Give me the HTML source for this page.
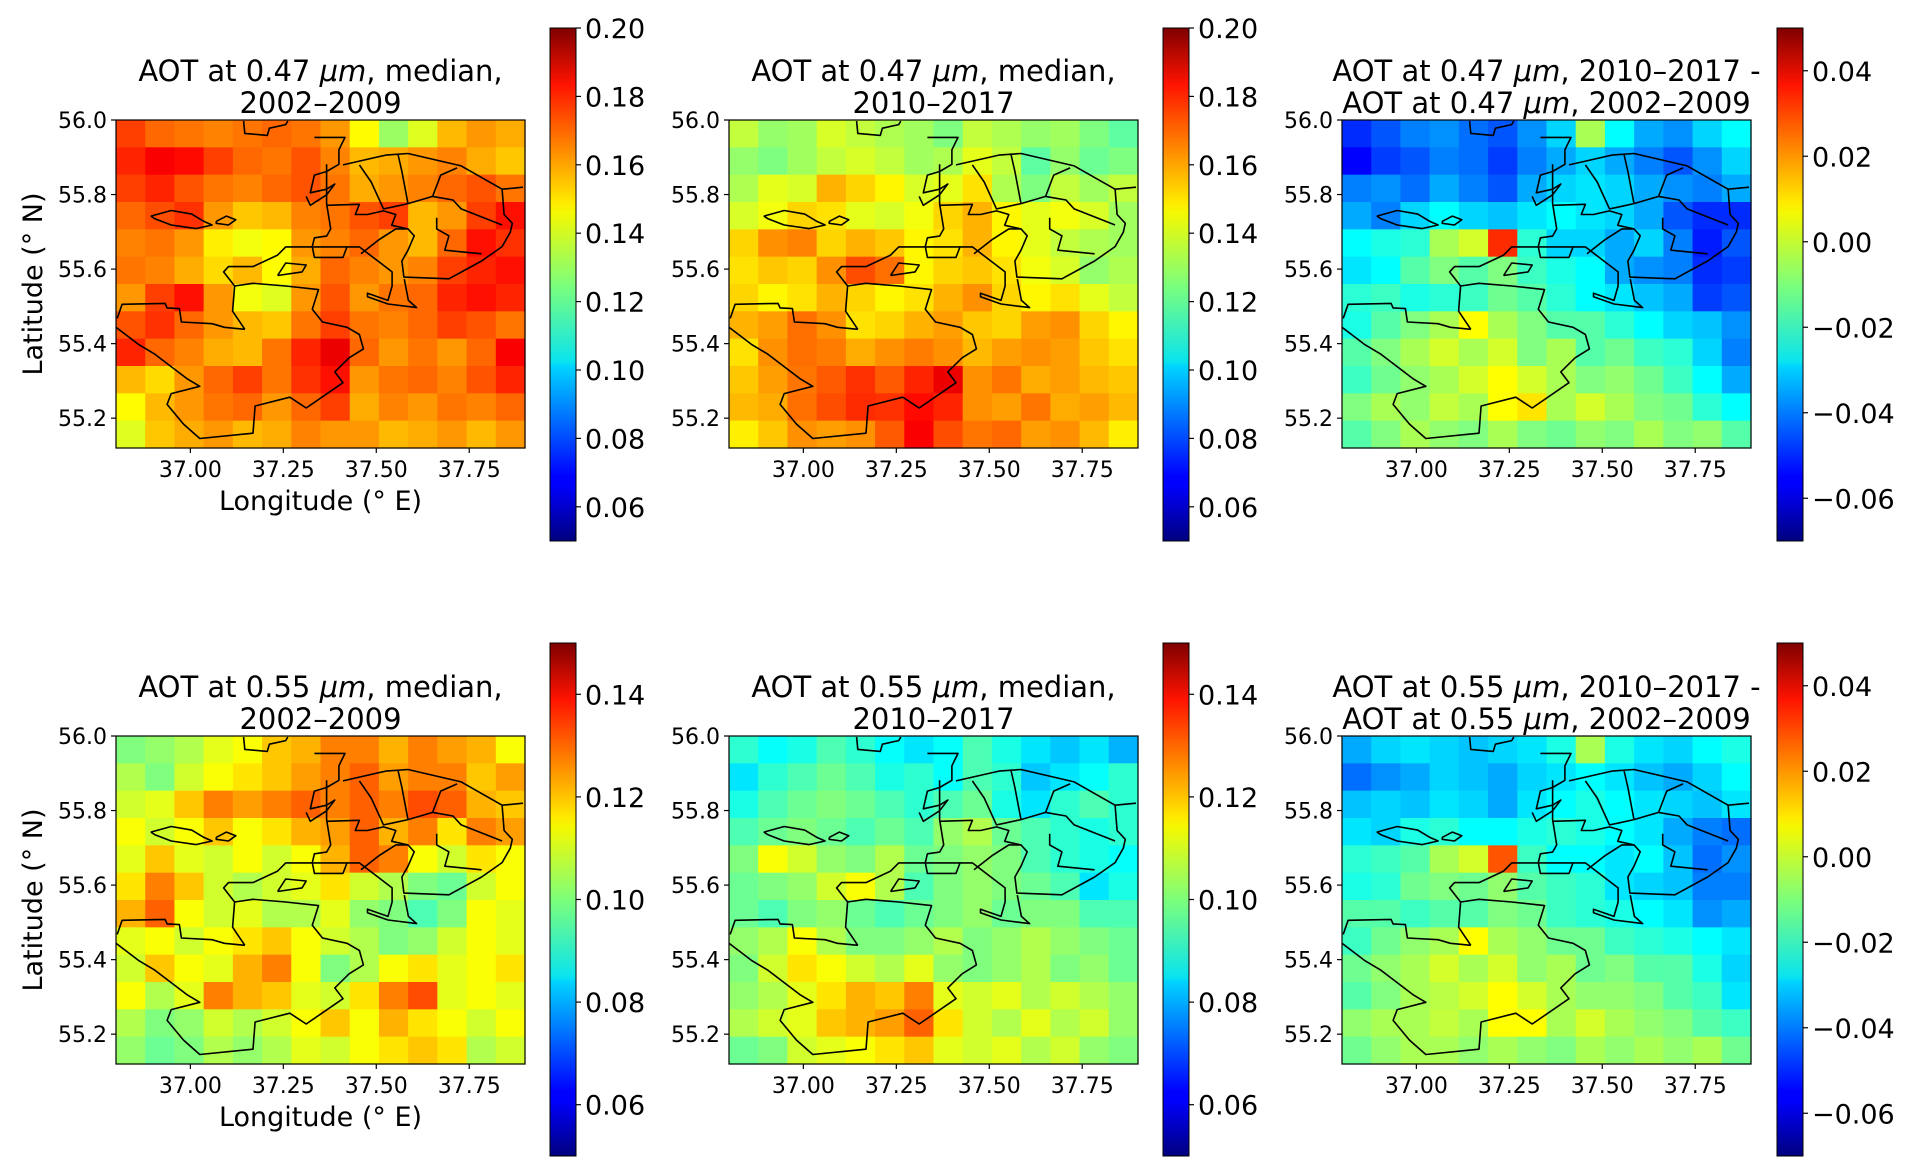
<!DOCTYPE html>
<html><head><meta charset="utf-8">
<style>
html,body{margin:0;padding:0;background:#fff;}
svg{display:block;font-family:"DejaVu Sans","Liberation Sans",sans-serif;}
</style></head>
<body>
<svg id="fig" width="1912" height="1175" viewBox="0 0 1912 1175" xmlns="http://www.w3.org/2000/svg">
<defs>
<linearGradient id="jet" x1="0" y1="1" x2="0" y2="0">
<stop offset="0" stop-color="#00007f"/><stop offset="0.11" stop-color="#0000ff"/><stop offset="0.125" stop-color="#0000ff"/>
<stop offset="0.34" stop-color="#00d4ff"/><stop offset="0.35" stop-color="#0ae4ee"/><stop offset="0.5" stop-color="#7dff7a"/>
<stop offset="0.64" stop-color="#f4f802"/><stop offset="0.66" stop-color="#ffea00"/><stop offset="0.89" stop-color="#ff1300"/>
<stop offset="1" stop-color="#7f0000"/>
</linearGradient>
</defs>
</svg>
<script>
// ---- data (values in thousandths of AOT), rows north -> south, cols west -> east ----
const lonTicks = [37.00, 37.25, 37.50, 37.75];
const latTicks = [55.2, 55.4, 55.6, 55.8, 56.0];
const cbTicksA = [0.06, 0.08, 0.10, 0.12, 0.14, 0.16, 0.18, 0.20];
const cbTicksB = [0.06, 0.08, 0.10, 0.12, 0.14];
const cbTicksD = [-0.06, -0.04, -0.02, 0.00, 0.02, 0.04];
const aot047early = [
[172,166,164,162,164,166,164,159,144,129,139,154,159,156],
[176,182,180,172,166,164,169,162,154,156,159,162,156,152],
[172,176,169,164,162,166,169,164,156,159,162,166,169,164],
[166,170,174,159,152,154,162,164,169,172,154,159,172,179],
[162,164,159,146,142,144,159,162,166,159,154,166,179,174],
[164,162,156,149,154,144,156,166,162,159,162,172,176,179],
[159,172,179,159,142,139,159,169,159,164,166,176,179,176],
[169,174,166,159,154,152,164,172,164,162,166,172,169,164],
[176,166,162,156,154,164,176,184,166,159,164,159,166,182],
[154,149,159,166,172,164,174,179,159,164,166,162,169,176],
[144,154,159,164,166,159,166,172,156,162,159,164,162,166],
[139,152,156,159,154,156,162,159,159,154,156,159,154,159]];
const aot047late = [
[135,128,130,138,135,132,130,125,135,132,128,130,125,120],
[128,125,130,135,138,135,130,132,140,135,120,128,122,125],
[132,140,138,155,150,145,138,140,148,132,125,135,130,135],
[138,142,150,148,140,138,142,150,155,145,140,142,138,130],
[150,160,162,150,155,152,145,148,155,145,140,135,132,130],
[148,152,150,160,170,165,145,150,152,148,142,138,128,132],
[150,145,148,155,150,145,148,155,160,150,145,148,140,135],
[155,158,165,160,148,150,155,158,152,150,158,160,150,145],
[148,160,165,163,156,160,163,160,154,158,160,158,152,148],
[152,158,164,168,174,168,176,184,160,164,156,158,154,152],
[154,156,165,170,175,174,180,176,160,158,164,156,158,154],
[146,152,160,158,160,168,182,170,164,166,158,160,154,146]];
const aot047diff = [
[-50,-45,-40,-38,-42,-45,-38,-30,-5,-25,-35,-38,-30,-25],
[-55,-48,-45,-40,-42,-48,-40,-35,-30,-35,-40,-45,-38,-30],
[-40,-38,-42,-35,-40,-45,-35,-30,-28,-30,-35,-38,-40,-35],
[-35,-40,-30,-25,-30,-32,-28,-25,-28,-30,-35,-45,-50,-50],
[-25,-22,-20,-5,0,30,-20,-30,-30,-35,-30,-40,-52,-45],
[-28,-25,-15,-10,-15,-10,-18,-22,-25,-35,-38,-40,-50,-48],
[-20,-18,-22,-20,-18,-12,-15,-20,-25,-28,-32,-35,-48,-45],
[-22,-15,-10,-5,5,-5,-10,-15,-15,-20,-25,-30,-32,-38],
[-15,-10,-5,0,-5,0,-10,-5,-15,-12,-18,-20,-30,-40],
[-18,-12,-8,-5,0,5,0,-5,-10,-8,-12,-18,-25,-35],
[-10,-5,-8,-2,-5,5,8,-5,0,-5,-10,-12,-20,-25],
[-15,-10,-5,-8,-10,-5,-10,-12,-8,-10,-5,-10,-8,-15]];
const aot055early = [
[100,102,105,110,112,118,120,125,125,120,125,122,120,112],
[105,100,108,112,115,118,122,125,128,122,125,125,118,122],
[108,110,118,125,122,125,128,125,128,125,130,128,120,118],
[112,108,112,118,112,115,120,122,128,120,125,115,125,122],
[110,118,110,108,112,108,112,120,128,125,112,108,115,112],
[115,125,118,108,105,108,110,115,108,105,100,98,108,112],
[120,128,112,108,110,105,105,110,102,100,95,100,112,110],
[110,112,108,112,115,118,112,108,105,100,102,108,112,110],
[108,118,112,110,120,125,112,100,105,112,115,110,112,115],
[112,105,110,125,120,118,110,108,115,125,130,110,112,110],
[105,100,102,108,105,108,112,118,112,120,115,112,108,112],
[102,98,100,105,102,105,110,108,112,115,118,115,105,108]];
const aot055late = [
[92,88,90,95,92,88,85,88,95,90,85,82,85,80],
[85,92,95,98,95,90,92,88,95,92,82,85,88,92],
[90,95,98,100,98,95,92,95,98,90,85,92,95,92],
[95,98,100,98,95,98,95,102,105,98,95,92,90,92],
[100,112,108,102,100,105,98,100,102,100,95,92,90,88],
[98,100,102,108,112,105,95,100,102,100,98,95,85,90],
[98,95,100,102,98,95,98,100,102,98,100,100,95,95],
[102,105,112,105,100,100,102,105,100,102,105,102,100,98],
[100,108,115,112,108,105,110,102,100,102,105,100,102,98],
[102,105,110,115,120,118,125,110,108,110,105,108,105,102],
[105,108,110,118,120,122,128,115,108,105,110,105,108,102],
[98,100,108,110,112,115,118,110,108,110,105,108,102,100]];
const aot055diff = [
[-35,-30,-28,-30,-32,-30,-28,-22,-5,-22,-28,-30,-25,-22],
[-42,-38,-35,-30,-32,-35,-30,-28,-25,-28,-32,-35,-30,-25],
[-32,-30,-32,-28,-30,-35,-28,-25,-22,-25,-28,-30,-32,-28],
[-28,-30,-22,-20,-25,-25,-22,-20,-22,-25,-28,-35,-40,-42],
[-20,-18,-15,-5,0,25,-18,-25,-25,-28,-25,-32,-42,-38],
[-22,-20,-12,-10,-12,-8,-15,-18,-20,-28,-30,-32,-40,-40],
[-15,-15,-18,-15,-15,-10,-12,-18,-20,-22,-25,-28,-38,-35],
[-18,-12,-8,-5,5,-5,-8,-12,-12,-18,-20,-22,-25,-28],
[-12,-8,-5,0,-5,0,-8,-5,-12,-10,-15,-15,-22,-30],
[-15,-10,-5,-3,0,5,0,-5,-8,-8,-10,-15,-18,-28],
[-8,-5,-5,-2,-5,5,5,-5,0,-5,-8,-10,-15,-18],
[-12,-8,-5,-5,-8,-5,-8,-10,-5,-8,-5,-8,-5,-12]];

// boundary outlines in normalized axes coords*1000 (u: west->east, v: north->south)
const outlines = [
[[312,3],[315,41],[370,47],[375,25],[415,14],[420,3]],
[[85,293],[135,276],[185,287],[215,309],[235,320],[195,331],[135,320],[95,301],[85,293]],
[[245,309],[270,293],[293,304],[275,320],[245,315],[245,309]],
[[485,53],[515,53],[560,53],[545,91],[545,135],[515,157],[485,168],[475,222],[515,211],[535,195],[515,228],[475,260],[465,233]],
[[515,135],[515,255],[525,332],[515,354],[485,359],[480,386],[485,419],[555,419],[565,386]],
[[555,137],[660,107],[714,102],[844,140],[944,211],[949,288],[969,315],[964,342],[944,386],[894,430],[814,484],[704,479],[699,430],[714,397],[729,353],[714,332],[684,332],[644,364],[599,408]],
[[595,137],[624,189],[654,271],[674,266],[714,255],[774,233],[824,244],[844,271],[944,320]],
[[689,102],[699,157],[714,255]],
[[774,233],[794,168],[834,146]],
[[784,298],[784,332],[814,353],[804,397],[894,408]],
[[515,260],[595,257],[585,288],[615,288],[654,277],[684,288],[674,321],[714,332]],
[[0,632],[55,684],[95,714],[175,790],[205,812],[135,834],[125,867],[165,927],[205,971],[335,955],[340,872],[425,845],[465,878],[555,801],[535,768],[570,725],[605,698],[595,654],[565,632],[505,616],[480,577],[495,517],[415,506],[335,498],[290,506],[285,583],[315,638]],
[[3,605],[15,562],[120,559],[125,573],[155,575],[160,616],[235,621],[265,632],[315,638]],
[[290,506],[263,463],[275,447],[335,447],[395,412],[415,387],[485,387],[565,387],[595,387],[675,463],[675,506],[665,550],[615,528],[615,539],[665,561],[735,572],[715,550],[705,485]],
[[395,474],[415,436],[465,442],[455,463],[395,474]],
[[944,211],[995,205]]
];

// ---- layout ----
const AX_W = 409, AX_H = 328;
const LON0 = 36.8, LON1 = 37.9, LAT0 = 55.12, LAT1 = 56.0;
const panels = [
 {id:'p047-early', x:116, y:120, cbx:550, cby:28, data:aot047early, vmin:0.05, vmax:0.20, ticks:cbTicksA, t1:['AOT at 0.47 ','μm',', median,'], t2:'2002–2009', xl:true, yl:true},
 {id:'p047-late', x:729, y:120, cbx:1163, cby:28, data:aot047late, vmin:0.05, vmax:0.20, ticks:cbTicksA, t1:['AOT at 0.47 ','μm',', median,'], t2:'2010–2017', xl:false, yl:false},
 {id:'p047-diff', x:1342, y:120, cbx:1777, cby:28, data:aot047diff, vmin:-0.07, vmax:0.05, ticks:cbTicksD, t1:['AOT at 0.47 ','μm',', 2010–2017 -'], t2:['AOT at 0.47 ','μm',', 2002–2009'], xl:false, yl:false, diff:true},
 {id:'p055-early', x:116, y:736, cbx:550, cby:643, data:aot055early, vmin:0.05, vmax:0.15, ticks:cbTicksB, t1:['AOT at 0.55 ','μm',', median,'], t2:'2002–2009', xl:true, yl:true},
 {id:'p055-late', x:729, y:736, cbx:1163, cby:643, data:aot055late, vmin:0.05, vmax:0.15, ticks:cbTicksB, t1:['AOT at 0.55 ','μm',', median,'], t2:'2010–2017', xl:false, yl:false},
 {id:'p055-diff', x:1342, y:736, cbx:1777, cby:643, data:aot055diff, vmin:-0.07, vmax:0.05, ticks:cbTicksD, t1:['AOT at 0.55 ','μm',', 2010–2017 -'], t2:['AOT at 0.55 ','μm',', 2002–2009'], xl:false, yl:false, diff:true}
];
const CB_W = 26, CB_H = 513;
const NS = 'http://www.w3.org/2000/svg';
const svg = document.getElementById('fig');

function el(tag, attrs, parent){ const e=document.createElementNS(NS,tag); for(const k in attrs) e.setAttribute(k,attrs[k]); (parent||svg).appendChild(e); return e; }
function jet(t){
  t=Math.max(0,Math.min(1,t));
  const r=Math.max(0,Math.min(1,Math.min(4*t-1.5,-4*t+4.5)));
  const g=Math.max(0,Math.min(1,Math.min(4*t-0.5,-4*t+3.5)));
  const b=Math.max(0,Math.min(1,Math.min(4*t+0.5,-4*t+2.5)));
  return 'rgb('+Math.round(r*255)+','+Math.round(g*255)+','+Math.round(b*255)+')';
}
function fmt(v,d){ const s=Math.abs(v).toFixed(d); return (v< -1e-9?'−':'')+s; }
function addTitle(g, cx, y, parts){
  const t=el('text',{x:cx,y:y,'text-anchor':'middle','font-size':29,fill:'#000'},g);
  if(typeof parts==='string'){ t.textContent=parts; return t; }
  const a=el('tspan',{},t); a.textContent=parts[0];
  const b=el('tspan',{'font-style':'italic'},t); b.textContent=parts[1];
  const c=el('tspan',{},t); c.textContent=parts[2];
  return t;
}

panels.forEach(p=>{
  const g=el('g',{});
  
  
  const xs = lon => p.x + (lon-LON0)/(LON1-LON0)*AX_W;
  const ys = lat => p.y + (LAT1-lat)/(LAT1-LAT0)*AX_H;
  const rows=p.data.length, cols=p.data[0].length;
  const hm=el('g',{},g);
  
  
  for(let r=0;r<rows;r++){
    for(let c=0;c<cols;c++){
      const lonA=LON0+(LON1-LON0)*c/cols, lonB=LON0+(LON1-LON0)*(c+1)/cols;
      const latA=LAT1-(LAT1-LAT0)*r/rows, latB=LAT1-(LAT1-LAT0)*(r+1)/rows;
      const v=p.data[r][c]/1000;
      const cell=el('rect',{x:xs(lonA),y:ys(latA),width:xs(lonB)-xs(lonA)+0.6,height:ys(latB)-ys(latA)+0.6,fill:jet((v-p.vmin)/(p.vmax-p.vmin))},hm);
      
      
    }
  }
  const ol=el('g',{fill:'none',stroke:'#000','stroke-width':1.6,'stroke-linejoin':'round'},g);
  
  
  outlines.forEach(line=>{
    const pts=line.map(q=>(p.x+q[0]/1000*AX_W).toFixed(1)+','+(p.y+q[1]/1000*AX_H).toFixed(1)).join(' ');
    const pl=el('polyline',{points:pts},ol);
    
    
  });
  const frame=el('rect',{x:p.x,y:p.y,width:AX_W,height:AX_H,fill:'none',stroke:'#000','stroke-width':1.2},g);
  
  
  lonTicks.forEach(t=>{
    const x=xs(t);
    el('line',{x1:x,y1:p.y+AX_H,x2:x,y2:p.y+AX_H+5,stroke:'#000','stroke-width':1.2},g);
    const tl=el('text',{x:x,y:p.y+AX_H+29,'text-anchor':'middle','font-size':22},g);
    tl.textContent=t.toFixed(2);
    
    
  });
  latTicks.forEach(t=>{
    const y=ys(t);
    el('line',{x1:p.x-5,y1:y,x2:p.x,y2:y,stroke:'#000','stroke-width':1.2},g);
    const tl=el('text',{x:p.x-9,y:y+8,'text-anchor':'end','font-size':22},g);
    tl.textContent=t.toFixed(1);
    
    
  });
  const cx=p.x+AX_W/2;
  const tg=el('g',{},g);
  
  
  addTitle(tg,cx,p.y-39,p.t1);
  addTitle(tg,cx,p.y-7,p.t2);
  if(p.xl){
    const xl=el('text',{x:cx,y:p.y+AX_H+62,'text-anchor':'middle','font-size':27},g);
    xl.textContent='Longitude (° E)';
    
    
  }
  if(p.yl){
    const yx=42, yy=p.y+AX_H/2;
    const yl=el('text',{x:yx,y:yy,'text-anchor':'middle','font-size':27,transform:'rotate(-90 '+yx+' '+yy+')'},g);
    yl.textContent='Latitude  (° N)';
    
    
  }
  const cb=el('g',{},g);
  
  
  el('rect',{x:p.cbx,y:p.cby,width:CB_W,height:CB_H,fill:'url(#jet)',stroke:'#000','stroke-width':1},cb);
  const cs = v => p.cby + (p.vmax-v)/(p.vmax-p.vmin)*CB_H;
  p.ticks.forEach(t=>{
    const y=cs(t);
    el('line',{x1:p.cbx+CB_W,y1:y,x2:p.cbx+CB_W+5,y2:y,stroke:'#000','stroke-width':1.2},cb);
    const tl=el('text',{x:p.cbx+CB_W+9,y:y+10,'font-size':27},cb);
    tl.textContent=fmt(t,2);
    
    
  });
});
</script>
</body></html>
